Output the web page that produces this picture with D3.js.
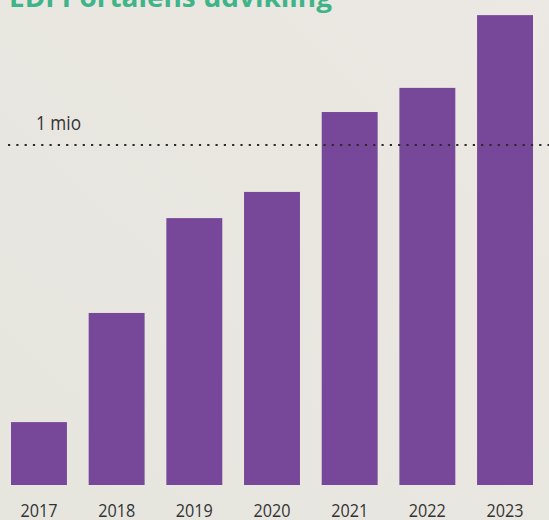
<!DOCTYPE html>
<html>
<head>
<meta charset="utf-8">
<script src="https://cdn.jsdelivr.net/npm/d3@7"></script>
<style>
  html, body { margin: 0; padding: 0; overflow: hidden; }
  svg { display: block; }
</style>
</head>
<body>
<script>
// EDI Portalens udvikling - yearly volume, in millions

var years = ["2017", "2018", "2019", "2020", "2021", "2022", "2023"];
var values = [0.185, 0.506, 0.785, 0.862, 1.097, 1.168, 1.382];
var refValue = 1;
var refLabel = "1 mio";
var title = "EDI Portalens udvikling";

var width = 549, height = 520;

var svg = d3.select("body").append("svg")
  .attr("width", width)
  .attr("height", height);

var defs = svg.append("defs");
var grad = defs.append("linearGradient")
  .attr("id", "bg")
  .attr("x1", "0%").attr("y1", "100%")
  .attr("x2", "100%").attr("y2", "0%");
grad.append("stop").attr("offset", "0%").attr("stop-color", "#e6e5de");
grad.append("stop").attr("offset", "100%").attr("stop-color", "#ece8e3");

svg.append("rect")
  .attr("width", width)
  .attr("height", height)
  .attr("fill", "url(#bg)");

var x = d3.scaleBand()
  .range([11, 533])
  .domain(years)
  .paddingInner(0.28)
  .paddingOuter(0);

var y = d3.scaleLinear()
  .range([485, 145])
  .domain([0, refValue]);

// title, cut at the top like the original slide crop
svg.append("text")
  .attr("x", 9)
  .attr("y", 7)
  .attr("fill", "#3fb488")
  .style("font-family", "'Open Sans', sans-serif")
  .style("font-weight", "bold")
  .style("font-size", "27px")
  .attr("textLength", 323)
  .attr("lengthAdjust", "spacingAndGlyphs")
  .text(title);

// bars
svg.selectAll(".bar")
  .data(values)
  .enter().append("rect")
  .attr("class", "bar")
  .attr("x", function(d, i){ return x(years[i]); })
  .attr("y", function(d){ return y(d); })
  .attr("width", x.bandwidth())
  .attr("height", function(d){ return y(0) - y(d); })
  .attr("fill", "#77479a");

// 1 mio reference line
svg.append("line")
  .attr("x1", 8)
  .attr("x2", width)
  .attr("y1", y(refValue))
  .attr("y2", y(refValue))
  .attr("stroke", "#2b2b2b")
  .attr("stroke-width", 2.2)
  .attr("stroke-dasharray", "2.2,6.1");

svg.append("text")
  .attr("x", 36)
  .attr("y", y(refValue) - 15)
  .attr("fill", "#333")
  .style("font-family", "'Open Sans', sans-serif")
  .style("font-size", "19.5px")
  .attr("textLength", 45)
  .attr("lengthAdjust", "spacingAndGlyphs")
  .text(refLabel);

// x axis labels
var x_axis = d3.axisBottom(x).tickSize(0).tickPadding(0);

var gx = svg.append("g")
  .attr("class", "x axis")
  .attr("transform", "translate(0," + y(0) + ")")
  .call(x_axis);

gx.select(".domain").remove();
gx.selectAll(".tick text")
  .attr("y", 32)
  .attr("dy", 0)
  .attr("fill", "#333")
  .attr("textLength", 37)
  .attr("lengthAdjust", "spacingAndGlyphs")
  .style("font-family", "'Open Sans', sans-serif")
  .style("font-size", "19px");
</script>
</body>
</html>
